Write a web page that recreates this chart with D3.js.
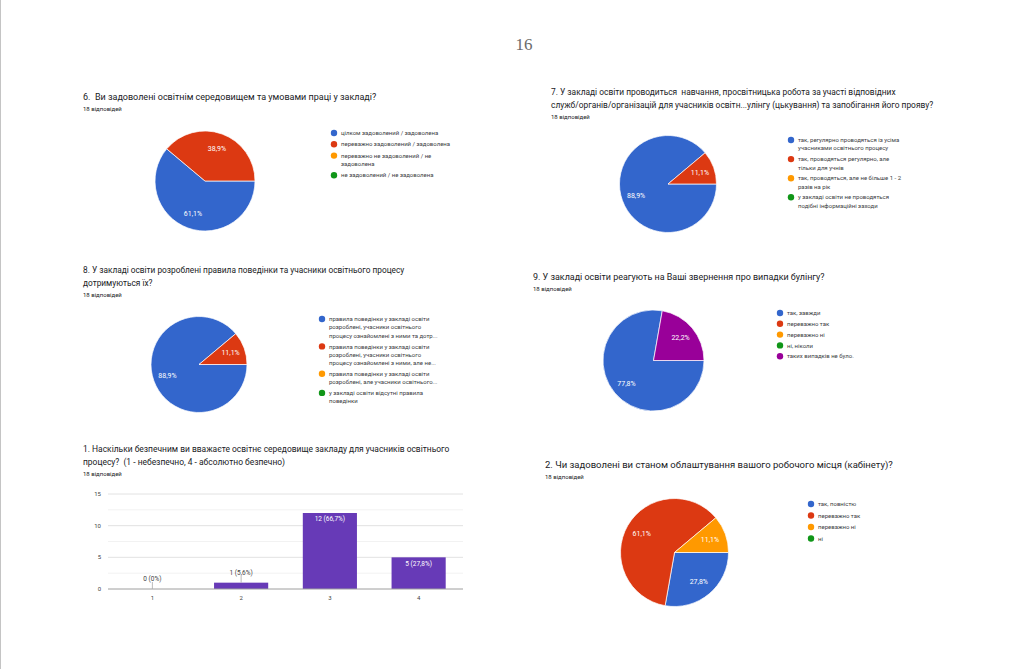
<!DOCTYPE html>
<html>
<head>
<meta charset="utf-8">
<script src="https://cdn.jsdelivr.net/npm/d3@7"></script>
<style>
  html, body { margin: 0; padding: 0; background: #ffffff; }
  text { font-family: Roboto, "Noto Sans", sans-serif; white-space: pre; }
</style>
</head>
<body>
<svg id="page"></svg>
<script>
const svgWidth = 1024;
const svgHeight = 669;

// google forms palette
const sliceColors = ["#3366cc", "#dc3912", "#ff9900", "#109618", "#990099"];

// 6
const q6Title = ["6.  Ви задоволені освітнім середовищем та умовами праці у закладі?"];
const q6Legend = [
    ["цілком задоволений / задоволена"],
    ["переважно задоволений / задоволена"],
    ["переважно не задоволений / не", "задоволена"],
    ["не задоволений / не задоволена"]
];
const q6Values = [11, 7, 0, 0];

// 7
const q7Title = [
    "7. У закладі освіти проводиться  навчання, просвітницька робота за участі відповідних",
    "служб/органів/організацій для учасників освітн...улінгу (цькування) та запобігання його прояву?"
];
const q7Legend = [
    ["так, регулярно проводяться із усіма", "учасниками освітнього процесу"],
    ["так, проводяться регулярно, але", "тільки для учнів"],
    ["так, проводяться, але не більше 1 - 2", "разів на рік"],
    ["у закладі освіти не проводяться", "подібні інформаційні заходи"]
];
const q7Values = [16, 2, 0, 0];

// 8
const q8Title = [
    "8. У закладі освіти розроблені правила поведінки та учасники освітнього процесу",
    "дотримуються їх?"
];
const q8Legend = [
    ["правила поведінки у закладі освіти", "розроблені, учасники освітнього", "процесу ознайомлені з ними та дотр..."],
    ["правила поведінки у закладі освіти", "розроблені, учасники освітнього", "процесу ознайомлені з ними, але не..."],
    ["правила поведінки у закладі освіти", "розроблені, але учасники освітнього..."],
    ["у закладі освіти відсутні правила", "поведінки"]
];
const q8Values = [16, 2, 0, 0];

// 9
const q9Title = ["9. У закладі освіти реагують на Ваші звернення про випадки булінгу?"];
const q9Legend = [
    ["так, завжди"],
    ["переважно так"],
    ["переважно ні"],
    ["ні, ніколи"],
    ["таких випадків не було."]
];
const q9Values = [14, 0, 0, 0, 4];

// 1 (bar)
const q1Title = [
    "1. Наскільки безпечним ви вважаєте освітнє середовище закладу для учасників освітнього",
    "процесу?  (1 - небезпечно, 4 - абсолютно безпечно)"
];
const q1Categories = ["1", "2", "3", "4"];
const q1Values = [0, 1, 12, 5];
const q1Ticks = [0, 5, 10, 15];

// 2
const q2Title = ["2. Чи задоволені ви станом облаштування вашого робочого місця (кабінету)?"];
const q2Legend = [
    ["так, повністю"],
    ["переважно так"],
    ["переважно ні"],
    ["ні"]
];
const q2Values = [5, 11, 2, 0];

const responses = "18 відповідей";

var svg = d3.select("#page")
    .attr("width", svgWidth)
    .attr("height", svgHeight);

// page frame + number
svg.append("line")
    .attr("x1", 0.5).attr("x2", 0.5)
    .attr("y1", 0).attr("y2", svgHeight)
    .attr("stroke", "#c4c4c4");

svg.append("text")
    .attr("x", 524).attr("y", 50)
    .attr("text-anchor", "middle")
    .attr("fill", "#6b6b6b")
    .style("font-family", "'Liberation Serif', 'DejaVu Serif', serif")
    .style("font-size", "17px")
    .text("16");

const pct = d3.format(".1~f");
function fmtPct(v, total) {
    return pct(v / total * 100).replace(".", ",") + "%";
}

function drawHeader(g, x, y, lines, size) {
    lines.forEach(function(line, i) {
        g.append("text")
            .attr("x", x).attr("y", y + i * 13)
            .attr("fill", "#202124")
            .style("font-size", size + "px")
            .text(line);
    });
    g.append("text")
        .attr("x", x).attr("y", y + (lines.length - 1) * 13 + 11)
        .attr("fill", "#202124")
        .style("font-size", "6px")
        .text(responses);
}

function drawPie(opts) {
    var g = svg.append("g");
    drawHeader(g, opts.titleX, opts.titleY, opts.title, opts.titleSize);

    var total = d3.sum(opts.values);
    var pie = d3.pie()
        .sort(null)
        .startAngle(Math.PI / 2)
        .endAngle(Math.PI / 2 + 2 * Math.PI);
    var arcs = pie(opts.values);
    var arc = d3.arc().innerRadius(0).outerRadius(opts.r);
    var labelArc = d3.arc().innerRadius(opts.r * 0.7).outerRadius(opts.r * 0.7);

    var pg = g.append("g")
        .attr("transform", "translate(" + opts.cx + "," + opts.cy + ")");

    pg.selectAll("path")
        .data(arcs.filter(function(d) { return d.value > 0; }))
        .enter()
        .append("path")
        .attr("d", arc)
        .attr("fill", function(d) { return sliceColors[d.index]; })
        .attr("stroke", "#ffffff")
        .attr("stroke-width", 0.7);

    pg.selectAll("text")
        .data(arcs.filter(function(d) { return d.value > 0; }))
        .enter()
        .append("text")
        .attr("transform", function(d) { return "translate(" + labelArc.centroid(d) + ")"; })
        .attr("text-anchor", "middle")
        .attr("dy", "0.35em")
        .attr("fill", "#ffffff")
        .style("font-size", "7px")
        .text(function(d) { return fmtPct(d.value, total); });

    // legend
    var lineH = 8.3;
    var y = opts.legendY;
    opts.legend.forEach(function(lines, i) {
        g.append("circle")
            .attr("cx", opts.legendX).attr("cy", y)
            .attr("r", 3.2)
            .attr("fill", sliceColors[i]);
        lines.forEach(function(line, j) {
            g.append("text")
                .attr("x", opts.legendX + 7).attr("y", y + j * lineH)
                .attr("dy", "0.35em")
                .attr("fill", "#3c4043")
                .style("font-size", "6px")
                .text(line);
        });
        y += lines.length * lineH + (opts.legendGap || 2.5);
    });
}

drawPie({ title: q6Title, titleX: 83, titleY: 100, titleSize: 9.0, cx: 205, cy: 181, r: 50,
    values: q6Values, legend: q6Legend, legendX: 334, legendY: 133, legendGap: 3 });

drawPie({ title: q7Title, titleX: 551, titleY: 95, titleSize: 8.4, cx: 668, cy: 184, r: 48.5,
    values: q7Values, legend: q7Legend, legendX: 791, legendY: 140 });

drawPie({ title: q8Title, titleX: 83, titleY: 273, titleSize: 8.3, cx: 199, cy: 364.5, r: 48,
    values: q8Values, legend: q8Legend, legendX: 322, legendY: 319 });

drawPie({ title: q9Title, titleX: 533, titleY: 280, titleSize: 8.95, cx: 653.5, cy: 360.5, r: 50.5,
    values: q9Values, legend: q9Legend, legendX: 780, legendY: 313 });

drawPie({ title: q2Title, titleX: 545, titleY: 468, titleSize: 9.5, cx: 674.5, cy: 552.5, r: 54,
    values: q2Values, legend: q2Legend, legendX: 811, legendY: 504, legendGap: 3.2 });

// bar chart (question 1)
function drawBars() {
    var g = svg.append("g");
    drawHeader(g, 83, 452, q1Title, 8.45);

    var total = d3.sum(q1Values);
    var x = d3.scaleBand()
        .domain(q1Categories)
        .range([108, 463])
        .paddingInner(0.39)
        .paddingOuter(0.195);
    var y = d3.scaleLinear()
        .domain([0, 15])
        .range([589, 494]);

    // minor grid
    g.selectAll("line.minor")
        .data(d3.range(2.5, 15, 5))
        .enter()
        .append("line")
        .attr("x1", 108).attr("x2", 463)
        .attr("y1", function(d) { return y(d); })
        .attr("y2", function(d) { return y(d); })
        .attr("stroke", "#efefef")
        .attr("stroke-width", 0.8);

    g.selectAll("line.major")
        .data(q1Ticks.slice(1))
        .enter()
        .append("line")
        .attr("x1", 108).attr("x2", 463)
        .attr("y1", function(d) { return y(d); })
        .attr("y2", function(d) { return y(d); })
        .attr("stroke", "#dadada")
        .attr("stroke-width", 0.8);

    g.selectAll("text.ytick")
        .data(q1Ticks)
        .enter()
        .append("text")
        .attr("x", 101)
        .attr("y", function(d) { return y(d); })
        .attr("dy", "0.35em")
        .attr("text-anchor", "end")
        .attr("fill", "#444")
        .style("font-size", "6px")
        .text(function(d) { return d; });

    g.selectAll("rect")
        .data(q1Values)
        .enter()
        .append("rect")
        .attr("x", function(d, i) { return x(q1Categories[i]); })
        .attr("y", function(d) { return y(d); })
        .attr("width", x.bandwidth())
        .attr("height", function(d) { return y(0) - y(d); })
        .attr("fill", "#673ab7");

    // baseline
    g.append("line")
        .attr("x1", 108).attr("x2", 463)
        .attr("y1", y(0)).attr("y2", y(0))
        .attr("stroke", "#9e9e9e")
        .attr("stroke-width", 1);

    q1Values.forEach(function(v, i) {
        var cx = x(q1Categories[i]) + x.bandwidth() / 2;
        var label = v + " (" + fmtPct(v, total) + ")";
        if (y(0) - y(v) > 14) {
            g.append("text")
                .attr("x", cx).attr("y", y(v) + 6)
                .attr("dy", "0.35em")
                .attr("text-anchor", "middle")
                .attr("fill", "#ffffff")
                .style("font-size", "6.5px")
                .text(label);
        } else {
            g.append("line")
                .attr("x1", cx).attr("x2", cx)
                .attr("y1", y(v) - 7).attr("y2", y(v))
                .attr("stroke", "#aaaaaa")
                .attr("stroke-width", 0.8);
            g.append("text")
                .attr("x", cx).attr("y", y(v) - 10)
                .attr("dy", "0.35em")
                .attr("text-anchor", "middle")
                .attr("fill", "#444")
                .style("font-size", "6.5px")
                .text(label);
        }
    });

    g.selectAll("text.xtick")
        .data(q1Categories)
        .enter()
        .append("text")
        .attr("x", function(d) { return x(d) + x.bandwidth() / 2; })
        .attr("y", 598)
        .attr("dy", "0.35em")
        .attr("text-anchor", "middle")
        .attr("fill", "#444")
        .style("font-size", "6px")
        .text(function(d) { return d; });
}

drawBars();
</script>
</body>
</html>
